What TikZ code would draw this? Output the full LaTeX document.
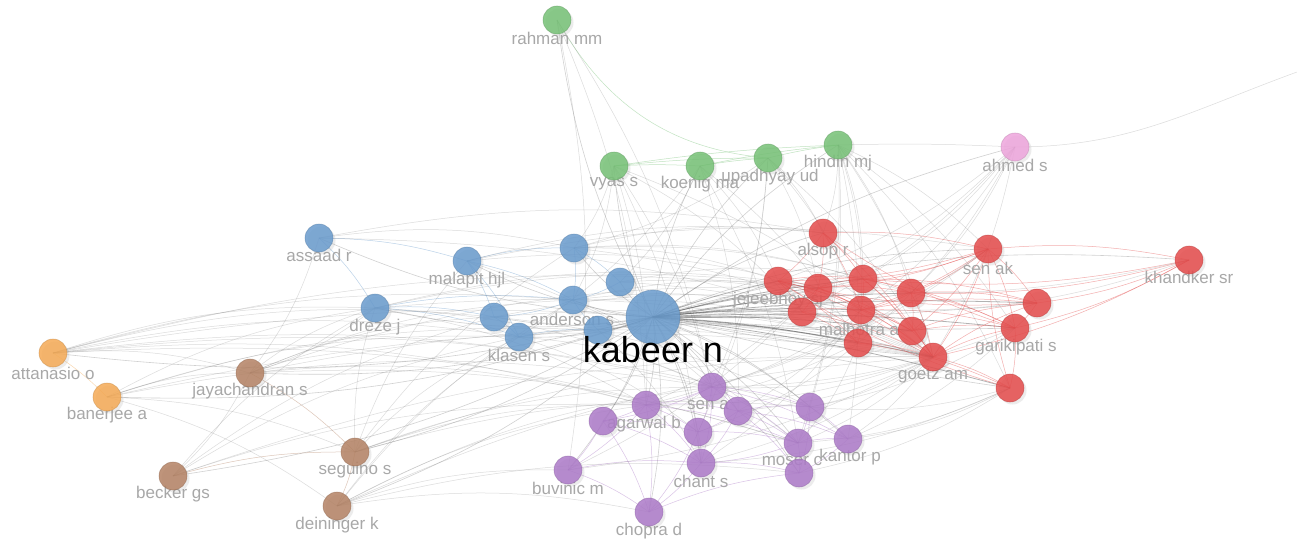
\documentclass[tikz,border=0pt]{standalone}
\usepackage{fontspec}
\setmainfont{Liberation Sans}
\usetikzlibrary{shadows}
\definecolor{vgreen}{RGB}{118,193,118}
\definecolor{vblue}{RGB}{105,155,205}
\definecolor{vred}{RGB}{228,75,75}
\definecolor{vpurple}{RGB}{172,122,200}
\definecolor{vorange}{RGB}{245,170,85}
\definecolor{vbrown}{RGB}{180,130,100}
\definecolor{vpink}{RGB}{238,165,220}
\definecolor{labelgray}{RGB}{168,168,168}
\pgfdeclarelayer{bgfill}
\pgfdeclarelayer{edges}
\pgfsetlayers{bgfill,edges,main}
\tikzset{
  vnode/.style={circle, inner sep=0pt, minimum size=28pt, fill=#1, fill opacity=0.85,
    draw=#1!80!black, draw opacity=0.5, line width=0.6pt,
    drop shadow={opacity=0.15, shadow xshift=2.5pt, shadow yshift=-2.5pt}},
  bignode/.style={vnode=#1, minimum size=54pt},
  lbl/.style={text=labelgray, font=\fontsize{17}{17}\selectfont, inner sep=0pt},
  biglbl/.style={text=black, font=\fontsize{36}{36}\selectfont, inner sep=0pt},
  gedge/.style={draw=black!55, draw opacity=0.25, line width=0.5pt},
  kedge/.style={draw=black!60, draw opacity=0.3, line width=0.6pt},
  kdark/.style={draw=black!75, draw opacity=0.4, line width=0.8pt},
  cedge/.style={draw=#1, draw opacity=0.45, line width=0.5pt},
}
\begin{document}
\begin{tikzpicture}[x=1pt,y=-1pt]
\begin{pgfonlayer}{bgfill}
\fill[white] (0,0) rectangle (1297,543);
\end{pgfonlayer}
\useasboundingbox (0,0) rectangle (1297,543);
% labels
\foreach \n/\x/\y/\t in {
  rahman/557/38/rahman mm, vyas/614/184/vyas s, koenig/700/184/koenig ma,
  upadhyay/770/177/upadhyay ud, hindin/838/163/hindin mj, ahmed/1015/165/ahmed s,
  assaad/319/255/assaad r, malapit/467/280/malapit hjl, anderson/572/319/anderson s,
  klasen/519/355/klasen s, dreze/375/327/dreze j,
  alsop/823/251/alsop r, senak/988/268/sen ak, khandker/1189/277/khandker sr,
  jejeebhoy/778/300/jejeebhoy sj, malhotra/859/329/malhotra a, goetz/933/376/goetz am,
  garikipati/1016/347/garikipati s,
  sena/708/405/sen a, agarwal/644/424/agarwal b, moser/792/461/moser c,
  kantor/850/457/kantor p, buvinic/568/488/buvinic m, chant/701/481/chant s,
  chopra/649/531/chopra d,
  attanasio/53/373/attanasio o, banerjee/107/415/banerjee a,
  jayachandran/250/391/jayachandran s, seguino/355/470/seguino s,
  becker/173/494/becker gs, deininger/337/525/deininger k}
  {\node[lbl] (\n-l) at (\x,\y) {\t};}
% nodes
\foreach \n/\x/\y/\c in {
  rahman/557/20/vgreen, vyas/614/166/vgreen, koenig/700/166/vgreen,
  upadhyay/768/158/vgreen, hindin/838/145/vgreen, ahmed/1015/147/vpink,
  assaad/319/238/vblue, malapit/467/261/vblue, bA/574/248/vblue, bB/620/282/vblue,
  anderson/573/300/vblue, bC/494/317/vblue, klasen/519/337/vblue, bD/598/330/vblue,
  dreze/375/308/vblue,
  alsop/823/233/vred, senak/988/249/vred, khandker/1189/260/vred,
  jejeebhoy/778/281/vred, rA/818/288/vred, rB/863/279/vred, rC/911/293/vred,
  rD/802/312/vred, malhotra/861/310/vred, rE/912/331/vred, rF/858/343/vred,
  goetz/933/357/vred, rG/1037/303/vred, garikipati/1015/328/vred, rH/1010/388/vred,
  sena/712/387/vpurple, agarwal/646/405/vpurple, pA/603/421/vpurple,
  pB/738/411/vpurple, pC/810/407/vpurple, pD/698/432/vpurple, moser/798/443/vpurple,
  kantor/848/439/vpurple, pE/799/473/vpurple, buvinic/568/470/vpurple,
  chant/701/463/vpurple, chopra/649/512/vpurple,
  attanasio/53/353/vorange, banerjee/107/397/vorange,
  jayachandran/250/373/vbrown, seguino/355/452/vbrown,
  becker/173/476/vbrown, deininger/337/506/vbrown}
  {\node[vnode=\c] (\n) at (\x,\y) {};}
\node[bignode=vblue] (kabeer) at (653,317) {};
\node[biglbl] (kabeer-l) at (653,350) {kabeer n};
\coordinate (farright) at (1297,72);
\begin{pgfonlayer}{edges}
% kabeer edges
\foreach \b in {rahman, vyas, koenig, upadhyay, hindin, ahmed, assaad, malapit, bA, bB,
  anderson, bC, klasen, bD, dreze, alsop, senak, khandker, sena, agarwal, pA, pB, pC,
  pD, moser, kantor, pE, buvinic, chant, chopra, attanasio, banerjee, jayachandran,
  seguino, becker, deininger}
  {\draw[kedge] (kabeer.center) to[bend left=10] (\b.center);}
\foreach \b in {jejeebhoy, rA, rB, rC, rD, malhotra, rE, rF, goetz, rG, garikipati, rH}
  {\draw[kdark] (kabeer.center) to[bend left=4] (\b.center);
   \draw[kedge] (kabeer.center) to[bend right=3] (\b.center);}
% green
\foreach \a/\b in {vyas/koenig, koenig/upadhyay, upadhyay/hindin, vyas/upadhyay,
  koenig/hindin, vyas/hindin}
  {\draw[cedge=vgreen] (\a.center) to[bend left=3] (\b.center);}
\draw[cedge=vgreen] (rahman.center) to[out=-60,in=175] (upadhyay.center);
\draw[gedge] (hindin.center) to[bend left=2] (ahmed.center);
\draw[gedge] (ahmed.center) to[out=0,in=200] (farright);
% blue
\foreach \a/\b in {assaad/malapit, assaad/dreze, malapit/bC, malapit/klasen, bA/bB,
  bA/anderson, anderson/bC, bC/klasen, klasen/bD, bD/anderson, bB/anderson, dreze/bC,
  dreze/klasen, malapit/anderson, malapit/bA, dreze/anderson}
  {\draw[cedge=vblue] (\a.center) to[bend left=8] (\b.center);}
% red
\foreach \a/\b in {alsop/jejeebhoy, alsop/rA, alsop/rB, alsop/malhotra, alsop/goetz,
  alsop/senak, senak/rA, senak/rB, senak/rC, senak/malhotra, senak/goetz, senak/rE,
  senak/rG, senak/garikipati, senak/khandker, senak/jejeebhoy, khandker/rG,
  khandker/garikipati, khandker/rB, khandker/rC, khandker/goetz, jejeebhoy/rA,
  jejeebhoy/rB, jejeebhoy/rD, jejeebhoy/malhotra, jejeebhoy/goetz, jejeebhoy/rE,
  jejeebhoy/rF, rA/rB, rA/rC, rA/malhotra, rA/goetz, rA/rD, rA/rE, rB/rC, rB/malhotra,
  rB/goetz, rB/rE, rB/rG, rB/garikipati, rC/malhotra, rC/rE, rC/goetz, rC/garikipati,
  rC/rG, rD/malhotra, rD/goetz, rD/rF, malhotra/rE, malhotra/goetz, malhotra/rF,
  malhotra/garikipati, malhotra/rG, rE/goetz, rE/rG, rE/garikipati, rF/goetz, rF/rH,
  goetz/garikipati, goetz/rG, goetz/rH, rG/garikipati, garikipati/rH, rH/senak,
  rH/jejeebhoy, rG/jejeebhoy, garikipati/alsop}
  {\draw[cedge=vred] (\a.center) to[bend left=8] (\b.center);}
% purple
\foreach \a/\b in {sena/agarwal, sena/pA, sena/pB, sena/pD, sena/pC, sena/chant,
  sena/moser, sena/kantor, agarwal/pA, agarwal/pB, agarwal/pD, agarwal/buvinic,
  agarwal/chant, agarwal/chopra, agarwal/moser, pA/buvinic, pA/chopra, pA/pD, pA/chant,
  pB/pC, pB/pD, pB/moser, pB/kantor, pB/chant, pB/pE, pC/moser, pC/kantor, pC/pE,
  pD/chant, pD/moser, pD/chopra, moser/kantor, moser/pE, moser/chant, kantor/pE,
  buvinic/chant, buvinic/chopra, chant/chopra, chant/pE, chopra/pE}
  {\draw[cedge=vpurple] (\a.center) to[bend left=8] (\b.center);}
% orange / brown
\draw[cedge=vorange] (attanasio.center) to[bend left=6] (banerjee.center);
\foreach \a/\b in {seguino/deininger, becker/seguino, jayachandran/seguino}
  {\draw[cedge=vbrown] (\a.center) to[bend left=8] (\b.center);}
% grey cross-cluster edges
\foreach \a/\b in {rahman/buvinic, rahman/agarwal, rahman/sena,
  vyas/bA, vyas/anderson, vyas/rD, vyas/sena, vyas/agarwal, vyas/chant, vyas/goetz,
  koenig/bB, koenig/jejeebhoy, koenig/pB, koenig/moser, koenig/klasen, koenig/rF,
  upadhyay/alsop, upadhyay/rA, upadhyay/malhotra, upadhyay/goetz, upadhyay/sena,
  upadhyay/pD, upadhyay/bA,
  hindin/alsop, hindin/rB, hindin/rC, hindin/malhotra, hindin/goetz, hindin/rH,
  hindin/kantor, hindin/moser, hindin/pC, hindin/garikipati, hindin/senak,
  ahmed/rA, ahmed/rB, ahmed/rC, ahmed/jejeebhoy, ahmed/goetz, ahmed/rD,
  ahmed/malhotra, ahmed/rF,
  assaad/bA, assaad/jayachandran, assaad/goetz, assaad/alsop,
  malapit/rA, malapit/alsop, malapit/senak, malapit/moser,
  dreze/rA, dreze/jejeebhoy, dreze/goetz, dreze/sena, dreze/agarwal, dreze/jayachandran,
  bA/alsop, bA/rB, bA/jejeebhoy, bA/goetz, bA/rC, bB/rB, bB/malhotra, bB/goetz,
  anderson/rA, anderson/rD, anderson/goetz, anderson/sena, bC/goetz, bC/malhotra,
  bC/pC, klasen/goetz, klasen/sena, klasen/pD, klasen/rF, bD/rD, bD/goetz, bD/chant,
  goetz/sena, goetz/agarwal, goetz/moser, goetz/kantor, goetz/pC, goetz/chant,
  goetz/buvinic, goetz/pB, rH/moser, rH/pC, rH/kantor, rH/chant, rH/pE,
  garikipati/kantor, garikipati/sena, garikipati/pC, senak/sena, senak/agarwal,
  malhotra/sena, malhotra/chant, malhotra/pB, rF/pD, rF/agarwal, rF/moser,
  rA/buvinic, rA/agarwal, khandker/malhotra, khandker/jejeebhoy,
  attanasio/dreze, attanasio/bC, attanasio/klasen, attanasio/anderson, attanasio/goetz,
  attanasio/rA, attanasio/sena, attanasio/agarwal, attanasio/moser, attanasio/pC,
  attanasio/jayachandran,
  banerjee/jayachandran, banerjee/dreze, banerjee/klasen, banerjee/bD, banerjee/deininger,
  banerjee/sena, banerjee/goetz, banerjee/seguino,
  jayachandran/dreze, jayachandran/bC, jayachandran/anderson,
  jayachandran/agarwal, jayachandran/goetz, jayachandran/rA, jayachandran/moser,
  jayachandran/becker,
  seguino/dreze, seguino/klasen, seguino/bA, seguino/agarwal, seguino/goetz,
  seguino/sena, seguino/pC, seguino/malapit,
  becker/dreze, becker/bC, becker/agarwal, becker/goetz, becker/klasen,
  deininger/chopra, deininger/buvinic, deininger/agarwal, deininger/klasen,
  deininger/anderson, deininger/goetz, deininger/sena, deininger/pE}
  {\draw[gedge] (\a.center) to[bend left=10] (\b.center);}
\end{pgfonlayer}
\end{tikzpicture}
\end{document}
